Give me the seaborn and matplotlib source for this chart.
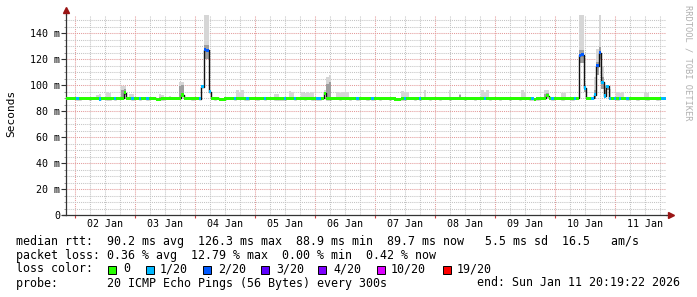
import numpy as np
import pandas as pd
import matplotlib
matplotlib.use("Agg")
import matplotlib.pyplot as plt
import matplotlib.dates as mdates
from matplotlib.ticker import MultipleLocator, FuncFormatter
from matplotlib.patches import Rectangle
import seaborn as sns

# ---------------- data ----------------
start_time = "2026-01-01 20:19:22"
end_time = "2026-01-11 20:19:22"

# hourly median rtt (ms)
median_ms = [
    89.8, 89.7, 89.8, 89.7, 89.6, 89.5, 89.7, 89.8, 89.7, 89.6, 89.8, 89.7,
    89.7, 89.2, 89.8, 89.7, 89.4, 89.3, 89.7, 89.5, 89.8, 89.7, 89.9, 94.0,
    89.8, 89.7, 89.3, 89.7, 89.8, 89.5, 89.7, 89.8, 89.5, 89.7, 89.8, 89.7,
    89.1, 89.0, 89.6, 89.7, 89.8, 89.7, 89.8, 89.7, 89.8, 89.9, 92.3, 89.7,
    89.8, 89.7, 89.6, 89.7, 89.8, 89.5, 98.7, 127.0, 126.8, 94.9, 89.7, 89.6,
    89.7, 89.1, 89.0, 89.2, 89.7, 89.8, 89.7, 89.5, 89.7, 89.8, 89.7, 89.6,
    89.4, 89.7, 89.8, 89.7, 89.6, 89.8, 89.7, 89.4, 89.7, 89.8, 89.7, 89.6,
    89.4, 89.3, 89.6, 89.5, 89.7, 89.8, 89.7, 89.5, 89.7, 89.8, 89.7, 89.6,
    89.7, 89.8, 89.6, 89.7, 89.5, 89.6, 89.8, 93.5, 89.4, 89.3, 89.7, 89.8,
    89.7, 89.6, 89.7, 89.8, 89.7, 89.6, 89.8, 89.7, 89.5, 89.7, 89.8, 89.7,
    89.6, 89.7, 89.5, 89.8, 89.7, 89.6, 89.7, 89.8, 89.7, 89.6, 89.7, 89.2,
    89.0, 89.1, 89.3, 89.5, 89.7, 89.8, 89.7, 89.6, 89.7, 89.5, 89.7, 89.8,
    89.7, 89.6, 89.7, 89.8, 89.7, 89.6, 89.7, 89.8, 89.7, 89.6, 89.7, 89.8,
    89.7, 89.8, 89.7, 89.6, 89.7, 89.8, 89.7, 89.6, 89.7, 89.8, 89.7, 89.9,
    89.7, 89.6, 89.7, 89.8, 89.7, 89.6, 89.7, 89.8, 89.7, 89.6, 89.7, 89.8,
    89.7, 89.6, 89.7, 89.8, 89.7, 89.6, 89.4, 89.1, 89.3, 89.7, 89.8, 89.9,
    91.8, 89.7, 89.6, 89.7, 89.8, 89.7, 89.6, 89.7, 89.8, 89.7, 89.6, 89.8,
    89.9, 123.0, 123.2, 97.7, 89.7, 89.8, 89.9, 92.5, 115.0, 125.0, 102.0, 91.5,
    99.0, 89.7, 89.8, 89.7, 89.6, 89.7, 89.8, 89.7, 89.6, 89.7, 89.8, 89.7,
    89.6, 89.7, 89.8, 89.7, 89.6, 89.7, 89.8, 89.7, 89.6, 89.7, 89.8, 89.7,
]

# hours with packet loss (count out of 20)
loss_hours = [4, 13, 19, 26, 29, 32, 53, 54, 55, 56, 57, 67, 72, 79, 87, 91,
              100, 101, 116, 122, 135, 141, 167, 186, 194, 203, 205, 206, 207,
              210, 211, 212, 213, 214, 215, 216, 217, 219, 221, 224, 238, 239]
loss_counts = [1, 1, 1, 1, 1, 1, 1, 1, 2, 2, 1, 1, 1, 1, 1, 1,
               1, 1, 1, 1, 1, 1, 1, 1, 1, 1, 2, 2, 1,
               1, 1, 2, 2, 1, 1, 1, 1, 1, 1, 1, 1, 1]

# smoke (ping spread) where visible
smoke_hours = [12, 13, 16, 17, 22, 23, 25, 26, 37, 38, 41, 45, 46, 55, 56, 57,
               68, 69, 70, 83, 84, 89, 90, 94, 95, 96, 97, 98, 103, 104, 105,
               108, 109, 110, 111, 112, 134, 135, 136, 143, 153, 157, 166, 167,
               168, 182, 183, 191, 192, 198, 199, 205, 206, 207, 211, 212, 213,
               214, 215, 216, 217, 220, 221, 222, 231, 232]
smoke_top_ms = [92, 93, 95, 94, 99, 99, 93, 93, 93, 92, 91.5, 102, 102, 154, 154, 96,
                96, 95, 96, 93, 93, 95.5, 95, 95, 94, 95, 94, 95, 96, 106, 108,
                95, 94, 95, 95, 95, 95.5, 95, 95, 96.5, 96.5, 93, 96, 95,
                96, 96.5, 95, 96, 96, 94, 94, 154, 154, 101, 106, 128, 154,
                115, 100, 100, 97, 95, 94, 95, 94, 94]
smoke_core_ms = [90.8, 91, 91, 91, 96, 97, 91, 91, 91, 91, 91, 99, 100, 131, 131, 95.5,
                 91, 91, 91, 91, 91, 91, 91, 91, 91, 91, 91, 91, 94.5, 101, 102,
                 91, 91, 91, 91, 91, 91, 91, 91, 91, 91, 92, 91, 91,
                 91, 91, 91, 93, 93.5, 91, 91, 127, 127, 100, 96, 118, 129,
                 106, 96, 100, 91, 91, 91, 91, 91, 91]
smoke_floor_ms = [89, 89, 89, 89, 89, 92, 89, 89, 88.5, 89, 89, 89, 91, 120, 120, 94,
                  89, 89, 89, 89, 89, 89, 89, 89, 89, 89, 89, 89, 92, 89, 89,
                  89, 89, 89, 89, 89, 89, 89, 89, 89, 89, 89, 89, 89,
                  89, 89, 89, 89, 91, 89, 89, 117, 117, 95, 89, 108, 120,
                  97, 90, 96, 89, 89, 89, 89, 89, 89]

loss_levels = [0, 1, 2, 3, 4, 10, 19]
loss_labels = ["0", "1/20", "2/20", "3/20", "4/20", "10/20", "19/20"]
loss_colors = ["#26ff00", "#00b8ff", "#0059ff", "#5e00ff", "#7e00ff", "#dd00ff", "#ff0000"]

rtt_line = "median rtt:  90.2 ms avg  126.3 ms max  88.9 ms min  89.7 ms now   5.5 ms sd  16.5   am/s"
loss_line = "packet loss: 0.36 % avg  12.79 % max  0.00 % min  0.42 % now"
probe_line = "probe:       20 ICMP Echo Pings (56 Bytes) every 300s"
end_text = "end: Sun Jan 11 20:19:22 2026"

# ---------------- build ----------------
sns.set_theme(style="white")
plt.rcParams["font.family"] = ["DejaVu Sans Mono", "DejaVu Sans"]

W, H = 697, 297
fig = plt.figure(figsize=(W / 100, H / 100), dpi=100)
fig.patch.set_facecolor("white")
ax = fig.add_axes([66.3 / W, 82 / H, 600 / W, 200 / H])
ax.set_facecolor("white")

t0 = pd.Timestamp(start_time)
t1 = pd.Timestamp(end_time)
n = len(median_ms)
edges = mdates.date2num(t0 + pd.to_timedelta(np.arange(n + 1), unit="h"))
med = np.array(median_ms, dtype=float)
loss = np.zeros(n, dtype=int)
for h, c in zip(loss_hours, loss_counts):
    loss[h] = c

# doubled (step) representation
xs = np.column_stack([edges[:-1], edges[1:]]).ravel()


def dbl(a):
    return np.repeat(np.asarray(a, dtype=float), 2)


# smoke
s_top = np.full(n, np.nan)
s_core = np.full(n, np.nan)
s_floor = np.full(n, np.nan)
for h, a, b, c in zip(smoke_hours, smoke_top_ms, smoke_core_ms, smoke_floor_ms):
    s_top[h], s_core[h], s_floor[h] = a, b, c
ax.fill_between(xs, dbl(s_floor), dbl(s_top), color="#d6d6d6", lw=0, zorder=2)
ax.fill_between(xs, dbl(s_floor), dbl(s_core), color="#9e9e9e", lw=0, zorder=2.1)

# median line (black)
sns.lineplot(x=xs, y=dbl(med), estimator=None, sort=False, color="#111111",
             lw=1.0, ax=ax, zorder=3)

# loss-coloured bands
w = 1.2
for lvl, col in zip(loss_levels, loss_colors):
    m = loss == lvl
    if not m.any():
        continue
    lo = np.where(m, med - w, np.nan)
    hi = np.where(m, med + w, np.nan)
    ax.fill_between(xs, dbl(lo), dbl(hi), color=col, lw=0, zorder=4)

# ---------------- axes ----------------
ax.set_xlim(mdates.date2num(t0), mdates.date2num(t1))
ax.set_ylim(0, 153.85)

grid_grey = "#c4c4c4"
grid_red = "#e39a9a"
dot = (0, (1, 1))

ax.yaxis.set_major_locator(MultipleLocator(20))
ax.yaxis.set_minor_locator(MultipleLocator(5))
ax.yaxis.set_major_formatter(FuncFormatter(lambda v, p: "0" if v == 0 else f"{int(v)} m"))

ax.xaxis.set_major_locator(mdates.DayLocator())
ax.xaxis.set_major_formatter(FuncFormatter(lambda v, p: ""))
ax.xaxis.set_minor_locator(mdates.HourLocator(byhour=[6, 12, 18]))
ax.xaxis.set_minor_formatter(FuncFormatter(
    lambda v, p: mdates.num2date(v).strftime("%d %b") if mdates.num2date(v).hour == 12 else ""))

ax.grid(which="major", axis="both", color=grid_red, lw=0.75, linestyle=dot)
ax.grid(which="minor", axis="both", color=grid_grey, lw=0.75, linestyle=dot)
ax.set_axisbelow(True)

ax.tick_params(axis="y", which="major", length=3.5, width=0.8, color="#333333",
               pad=1.0, labelsize=7.2, labelcolor="#000000", left=True)
ax.tick_params(axis="y", which="minor", length=1.5, width=0.6, color="#888888", left=True)
ax.tick_params(axis="x", which="major", length=2.4, width=0.8, color="#d04040",
               bottom=True, labelbottom=False)
ax.tick_params(axis="x", which="minor", length=0, pad=2.8, labelsize=7.2,
               labelcolor="#000000", bottom=True, labelbottom=True)

for s in ["top", "right"]:
    ax.spines[s].set_visible(False)
for s in ["left", "bottom"]:
    ax.spines[s].set_color("#333333")
    ax.spines[s].set_linewidth(0.9)

# axis extensions and arrows
ax.plot([-0.0075, 0], [0, 0], transform=ax.transAxes, color="#333333", lw=0.9, clip_on=False)
ax.plot([1, 1.006], [0, 0], transform=ax.transAxes, color="#333333", lw=0.9, clip_on=False)
ax.plot([0, 0], [1, 1.02], transform=ax.transAxes, color="#333333", lw=0.9, clip_on=False)
ax.plot([0], [1.025], marker="^", ms=4, color="#9a1515", transform=ax.transAxes, clip_on=False)
ax.plot([1.008], [0], marker=">", ms=4, color="#9a1515", transform=ax.transAxes, clip_on=False)

# y label and watermark
fig.text(11 / W, 1 - 113 / H, "Seconds", rotation=90, ha="center", va="center",
         fontsize=8, color="#000000")
fig.text(688 / W, 1 - 5 / H, "RRDTOOL / TOBI OETIKER", rotation=270, ha="center",
         va="top", fontsize=6.3, color="#b0b0b0")

# ---------------- legend block ----------------
fs = 8.4


def put(x, y, s, **kw):
    fig.text(x / W, 1 - y / H, s, ha=kw.pop("ha", "left"), va="center",
             fontsize=fs, color="#000000", **kw)


put(16, 241.5, rtt_line)
put(16, 255, loss_line)

put(16, 269, "loss color:")
sq_x = [108, 146, 203, 261, 318, 377, 443]
lab_x = [123, 160, 218, 276, 333, 391, 457]
for sx, lx, col, lab in zip(sq_x, lab_x, loss_colors, loss_labels):
    fig.patches.append(Rectangle((sx / W, 1 - 274 / H), 8 / W, 8 / H,
                                 transform=fig.transFigure, facecolor=col,
                                 edgecolor="#000000", lw=0.7))
    put(lx, 269, lab)

put(16, 283, probe_line)
put(680, 283, end_text, ha="right")

fig.savefig("out.png", dpi=100, facecolor="white")
